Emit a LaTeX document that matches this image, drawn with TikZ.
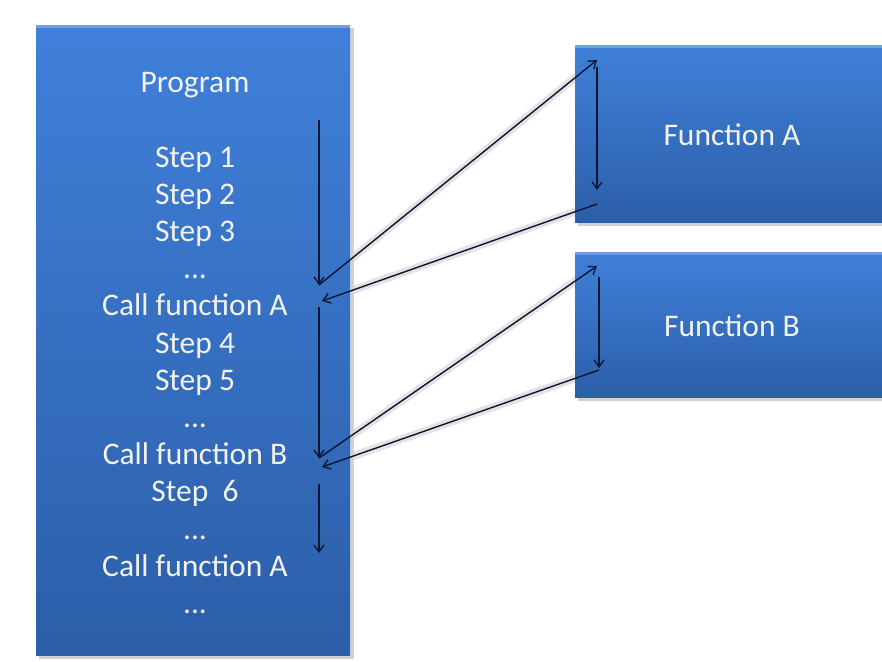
\documentclass[tikz,border=0pt]{standalone}
\usepackage{fontspec}
\setmainfont{Carlito}
\usetikzlibrary{arrows.meta,backgrounds}
\definecolor{boxtop}{RGB}{64,128,218}
\definecolor{boxbot}{RGB}{44,94,168}
\definecolor{txt}{RGB}{242,243,236}
\definecolor{arr}{RGB}{12,22,52}
\tikzset{
  bluebox/.style={draw=none, top color=boxtop, bottom color=boxbot, inner sep=0pt, anchor=north west},
  shadowbox/.style={fill=black!18, draw=none},
  ltext/.style={text=txt, font=\fontsize{31.5}{37}\selectfont, anchor=base, inner sep=0pt},
  flow/.style={draw=arr, line width=1.4pt, -{Straight Barb[length=7pt,width=10pt,line width=1.3pt]}},
  halo/.style={draw=black!11, line width=8pt, line cap=round}
}
\begin{document}
\begin{tikzpicture}[x=1pt,y=-1pt]
\useasboundingbox (0,0) rectangle (882,661);
% shadows
\fill[shadowbox] (39,28) rectangle (354,659);
\fill[shadowbox] (578,48) rectangle (882,226);
\fill[shadowbox] (578,255) rectangle (882,401);
% boxes
\node[bluebox, minimum width=314pt, minimum height=630pt] (prog) at (36,25) {};
\node[bluebox, minimum width=307pt, minimum height=177pt] (fa) at (575,45) {};
\node[bluebox, minimum width=307pt, minimum height=145pt] (fb) at (575,252) {};
\fill[white, opacity=0.25] (prog.north west) rectangle ([yshift=-3pt]prog.north east);
\fill[white, opacity=0.25] (fa.north west) rectangle ([yshift=-3pt]fa.north east);
\fill[white, opacity=0.25] (fb.north west) rectangle ([yshift=-3pt]fb.north east);
% texts
\node[ltext] (tprog) at (195,92) {Program};
\node[ltext] (t1) at (195,167.0) {Step 1};
\node[ltext] (t2) at (195,204.2) {Step 2};
\node[ltext] (t3) at (195,241.4) {Step 3};
\node[ltext] (t4) at (195,278.6) {...};
\node[ltext] (t5) at (195,315.8) {Call function A};
\node[ltext] (t6) at (195,353.0) {Step 4};
\node[ltext] (t7) at (195,390.2) {Step 5};
\node[ltext] (t8) at (195,427.4) {...};
\node[ltext] (t9) at (195,464.6) {Call function B};
\node[ltext] (t10) at (195,501.8) {Step~~6};
\node[ltext] (t11) at (195,539.0) {...};
\node[ltext] (t12) at (195,576.2) {Call function A};
\node[ltext] (t13) at (195,613.4) {...};
\node[ltext] (tfa) at (732,145) {Function A};
\node[ltext] (tfb) at (732,336) {Function B};
% connector end points
\coordinate (p1s) at (319,120);
\coordinate (p1e) at (319,285);
\coordinate (fa1) at (597,60);
\coordinate (fa1s) at (597,67);
\coordinate (fa1e) at (597,190);
\coordinate (fa2) at (597,204);
\coordinate (p2) at (322,301);
\coordinate (p2s) at (319,307);
\coordinate (p2e) at (319,458);
\coordinate (fb1) at (597,266);
\coordinate (fb1s) at (599,277);
\coordinate (fb1e) at (599,368);
\coordinate (fb2) at (599,370);
\coordinate (p3) at (322,467);
\coordinate (p3s) at (319,484);
\coordinate (p3e) at (319,553);
% halos
\begin{scope}[on background layer]
\draw[halo] (p1e) -- (fa1);
\draw[halo] (fa2) -- (p2);
\draw[halo] (p2e) -- (fb1);
\draw[halo] (fb2) -- (p3);
\end{scope}
% arrows
\draw[flow] (p1s) -- (p1e);
\draw[flow] (p1e) -- (fa1);
\draw[flow] (fa1s) -- (fa1e);
\draw[flow] (fa2) -- (p2);
\draw[flow] (p2s) -- (p2e);
\draw[flow] (p2e) -- (fb1);
\draw[flow] (fb1s) -- (fb1e);
\draw[flow] (fb2) -- (p3);
\draw[flow] (p3s) -- (p3e);
\end{tikzpicture}
\end{document}
